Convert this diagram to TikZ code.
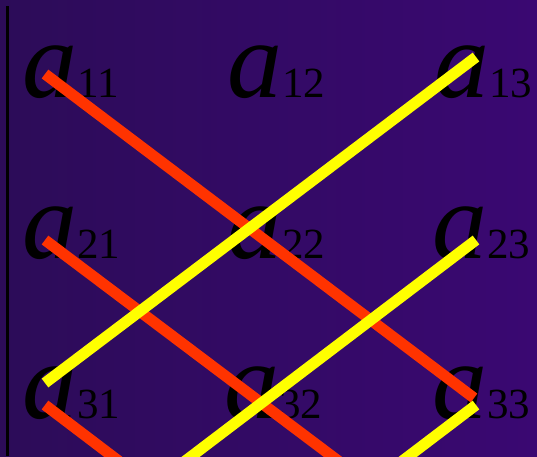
\documentclass[tikz,border=0pt]{standalone}
\usepackage{fontspec}
\setmainfont{Liberation Serif}
\definecolor{bgL}{RGB}{44,12,88}
\definecolor{bgR}{RGB}{58,8,114}
\definecolor{redl}{RGB}{255,51,0}
\definecolor{yell}{RGB}{255,255,0}
\newcommand{\entry}[1]{{\fontsize{110}{110}\selectfont\itshape a}{\fontsize{43}{43}\selectfont #1}}
\begin{document}
\begin{tikzpicture}[x=1pt,y=-1pt,
  elem/.style={anchor=base west,inner sep=0pt,text=black},
  redline/.style={draw=redl,line width=11pt},
  yelline/.style={draw=yell,line width=11pt}]
\useasboundingbox (0,0) rectangle (537,456);
\shade[left color=bgL,right color=bgR] (0,0) rectangle (537,456);
\draw[line width=3pt,black] (7,6) -- (7,456);
\node[elem] (a11) at (22,97) {\entry{11}};
\node[elem] (a12) at (227,97) {\entry{12}};
\node[elem] (a13) at (434,97) {\entry{13}};
\node[elem] (a21) at (22,258) {\entry{21}};
\node[elem] (a22) at (227,258) {\entry{22}};
\node[elem] (a23) at (432,258) {\entry{23}};
\node[elem] (a31) at (22,418) {\entry{31}};
\node[elem] (a32) at (224,418) {\entry{32}};
\node[elem] (a33) at (432,418) {\entry{33}};
\coordinate (r1s) at (45,74);
\coordinate (r1e) at (474,398);
\coordinate (r2s) at (45,240);
\coordinate (r2e) at (345,466);
\coordinate (r3s) at (45,405);
\coordinate (r3e) at (145,481);
\coordinate (y1s) at (45,383);
\coordinate (y1e) at (476,57);
\coordinate (y2s) at (476,240);
\coordinate (y2e) at (176,468);
\coordinate (y3s) at (476,405);
\coordinate (y3e) at (376,481);
\begin{scope}
\clip (0,0) rectangle (537,456);
\draw[redline] (r1s) -- (r1e);
\draw[redline] (r2s) -- (r2e);
\draw[redline] (r3s) -- (r3e);
\draw[yelline] (y1s) -- (y1e);
\draw[yelline] (y2s) -- (y2e);
\draw[yelline] (y3s) -- (y3e);
\end{scope}
\end{tikzpicture}
\end{document}
